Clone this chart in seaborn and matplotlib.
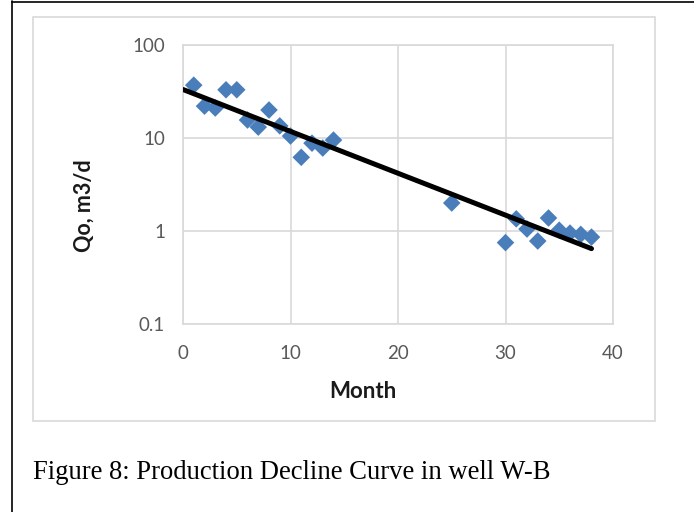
import numpy as np
import pandas as pd
import matplotlib
matplotlib.use("Agg")
import matplotlib.pyplot as plt
import seaborn as sns
from matplotlib.lines import Line2D
from matplotlib.patches import Rectangle

# ---- data ----
month = [1, 2, 3, 4, 5, 6, 7, 8, 9, 10, 11, 12, 13, 14,
         25, 30, 31, 32, 33, 34, 35, 36, 37, 38]
qo = [37, 22, 21, 33, 33, 15.6, 13.1, 20, 13.5, 10.5, 6.2, 8.8, 7.8, 9.5,
      2.0, 0.75, 1.35, 1.05, 0.78, 1.38, 1.02, 0.95, 0.92, 0.86]
x_ticks = [0, 10, 20, 30, 40]
y_ticks = [0.1, 1, 10, 100]
y_tick_labels = ["0.1", "1", "10", "100"]
caption = "Figure 8: Production Decline Curve in well W-B"

df = pd.DataFrame({"Month": month, "Qo": qo})

# exponential trend line (least squares on log values)
b, a = np.polyfit(df["Month"], np.log(df["Qo"]), 1)
trend_x = np.linspace(0, max(month), 100)
trend = pd.DataFrame({"Month": trend_x, "Qo": np.exp(a + b * trend_x)})

sns.set_theme(style="white")
plt.rcParams["font.family"] = ["Lato", "DejaVu Sans"]

fig = plt.figure(figsize=(6.94, 5.12), dpi=100)
fig.patch.set_facecolor("white")

# outer document frame (left and top lines)
fig.add_artist(Line2D([11.5 / 694, 11.5 / 694], [0, 1 - 1 / 512], color="black", lw=1.2,
                      transform=fig.transFigure))
fig.add_artist(Line2D([11.5 / 694, 1], [1 - 1.5 / 512, 1 - 1.5 / 512], color="black", lw=1.2,
                      transform=fig.transFigure))
# chart area box
fig.add_artist(Rectangle((33 / 694, 1 - 421 / 512), (655 - 33) / 694, (421 - 17) / 512,
                         fill=False, edgecolor="#D9D9D9", lw=1.2, transform=fig.transFigure))

ax = fig.add_axes([183 / 694, 1 - 324 / 512, 430 / 694, 279 / 512])
ax.set_yscale("log")

sns.lineplot(data=trend, x="Month", y="Qo", ax=ax, color="black", linewidth=3.6, zorder=3)
sns.scatterplot(data=df, x="Month", y="Qo", ax=ax, marker="D", s=80, color="#4A7EBB",
                edgecolor="none", zorder=2)

ax.set_xlim(0, 40)
ax.set_ylim(0.1, 100)
ax.set_xticks(x_ticks)
ax.set_xticklabels([str(t) for t in x_ticks])
ax.set_yticks(y_ticks)
ax.set_yticklabels(y_tick_labels)
ax.minorticks_off()
ax.tick_params(axis="both", length=0, labelsize=13.5, labelcolor="#595959")
ax.tick_params(axis="x", pad=15)
ax.tick_params(axis="y", pad=13)
ax.grid(True, color="#D9D9D9", linewidth=1.2)
for s in ax.spines.values():
    s.set_color("#D9D9D9")
    s.set_linewidth(1.2)

ax.set_xlabel("Month", fontsize=16, fontweight="bold", color="#1a1a1a")
ax.set_ylabel("Qo, m3/d", fontsize=15.5, fontweight="bold", color="#1a1a1a")
ax.xaxis.label.set_va("center")
ax.yaxis.label.set_va("center")
ax.xaxis.set_label_coords((363 - 183) / 430, (324 - 391) / 279)
ax.yaxis.set_label_coords((84 - 183) / 430, (324 - 206) / 279)

fig.text(33 / 694, 1 - 479 / 512, caption, family=["Liberation Serif"], fontsize=19.2,
         color="black", ha="left", va="baseline")

fig.savefig("out.png", dpi=100)
